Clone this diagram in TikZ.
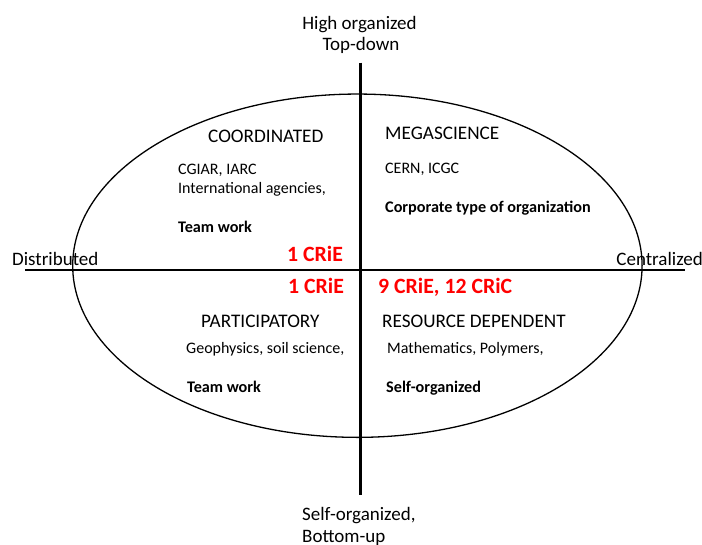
\documentclass[tikz,border=0pt]{standalone}
\usepackage{fontspec}
\setmainfont{Carlito}
\usetikzlibrary{shapes.geometric}
\begin{document}
\begin{tikzpicture}[x=1pt,y=-1pt,
  axis/.style={line width=2.6pt},
  lbl/.style={inner sep=0pt,font=\fontsize{19}{22}\selectfont},
  head/.style={inner sep=0pt,anchor=base west,font=\fontsize{19.2}{22}\selectfont},
  body/.style={inner sep=0pt,anchor=base west,font=\fontsize{16}{19}\selectfont},
  bodyb/.style={inner sep=0pt,anchor=base west,font=\fontsize{16.2}{19}\selectfont\bfseries},
  redb/.style={inner sep=0pt,anchor=base west,text=red,font=\fontsize{21.8}{24}\selectfont\bfseries}]
\useasboundingbox (0,0) rectangle (702,544);
\node[ellipse,draw,line width=1.3pt,inner sep=0pt,minimum width=569.4pt,minimum height=343.3pt] (ell) at (357.4,265.7) {};
\coordinate (hl) at (25,270);
\coordinate (hr) at (685,270);
\coordinate (vt) at (360.7,62.7);
\coordinate (vb) at (360.7,495);
\draw[axis] (hl) -- (hr);
\draw[axis] (vt) -- (vb);
% outer labels
\node[lbl,anchor=base] (hi) at (359.5,29.7) {High organized};
\node[lbl,anchor=base] (td) at (361,50.6) {Top-down};
\node[lbl,anchor=base west] (so) at (302,520) {Self-organized,};
\node[lbl,anchor=base west] (bu) at (302,542.5) {Bottom-up};
\node[lbl,anchor=base west] (dist) at (12,265) {Distributed};
\node[lbl,anchor=base east] (cent) at (703,265) {Centralized};
% quadrant heads
\node[head] (coord) at (208,142) {COORDINATED};
\node[head] (mega) at (385,139) {MEGASCIENCE};
\node[head] (part) at (201,327) {PARTICIPATORY};
\node[head] (res) at (382,327) {RESOURCE DEPENDENT};
% bodies
\node[body] (cg) at (178,174) {CGIAR, IARC};
\node[body] (ia) at (178,193) {International agencies,};
\node[bodyb] (tw1) at (178,232) {Team work};
\node[body] (cern) at (385,173) {CERN, ICGC};
\node[bodyb] (corp) at (385,212) {Corporate type of organization};
\node[body] (geo) at (186,353) {Geophysics, soil science,};
\node[body] (math) at (387,353) {Mathematics, Polymers,};
\node[bodyb] (tw2) at (187,392) {Team work};
\node[bodyb] (self) at (386,392) {Self-organized};
% red counts
\node[redb] (c1) at (287,261) {1 CRiE};
\node[redb] (c2) at (288,293) {1 CRiE};
\node[redb] (c3) at (378,293) {9 CRiE, 12 CRiC};
\end{tikzpicture}
\end{document}
